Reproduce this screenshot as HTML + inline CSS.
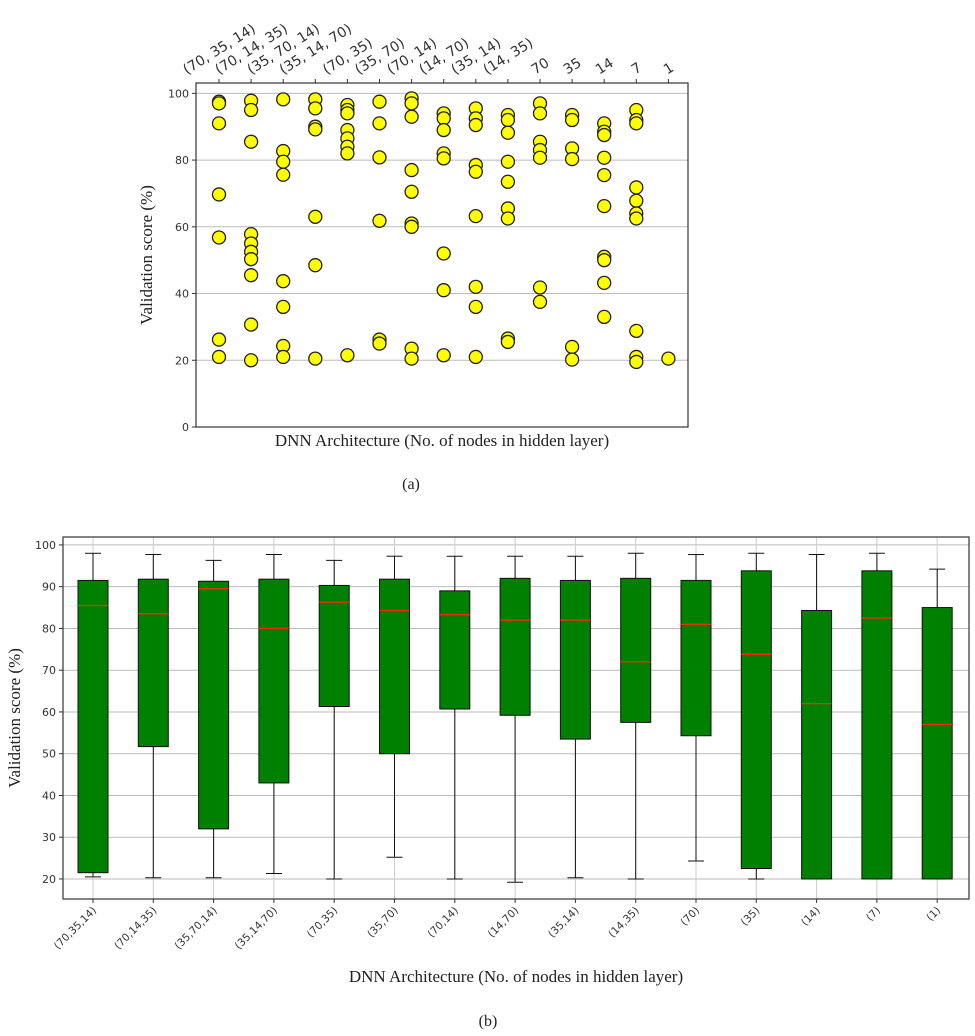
<!DOCTYPE html>
<html><head><meta charset="utf-8"><style>
body{margin:0;background:#fff;width:975px;height:1036px;overflow:hidden}
svg{display:block}
text{font-family:"DejaVu Sans","Liberation Sans",sans-serif;fill:#333}
.serif{font-family:"Liberation Serif","DejaVu Serif",serif;fill:#222}
</style></head><body>
<svg id="s" width="975" height="1036"></svg>
<script>
const topCats=["(70, 35, 14)","(70, 14, 35)","(35, 70, 14)","(35, 14, 70)","(70, 35)","(35, 70)","(70, 14)","(14, 70)","(35, 14)","(14, 35)","70","35","14","7","1"];
const scatterValues=[
[97.5,97,91,69.7,56.8,26.2,21],
[97.8,95,85.5,57.8,55,52.5,50.3,45.5,30.7,20],
[98.2,82.7,79.5,75.6,43.7,36,24.3,21],
[98.2,95.5,90,89.2,63,48.5,20.5],
[96.5,95,94,89,86.5,84,82,21.5],
[97.5,91,80.8,61.8,26.2,25],
[98.5,97,93,77,70.5,61,60,23.5,20.5],
[94,92.5,89,82,80.5,52,41,21.5],
[95.5,92.5,90.5,78.5,76.5,63.2,42,36,21],
[93.5,92,88.2,79.5,73.5,65.5,62.5,26.5,25.5],
[97,94,85.5,83,80.7,41.8,37.5],
[93.5,92,83.5,80.3,24,20.2],
[91,88.5,87.5,80.7,75.5,66.2,51,50,43.2,33],
[95,92,91,71.8,67.8,64,62.5,28.8,21,19.5],
[20.5]];
const topYTicks=[0,20,40,60,80,100];
const boxCats=["(70,35,14)","(70,14,35)","(35,70,14)","(35,14,70)","(70,35)","(35,70)","(70,14)","(14,70)","(35,14)","(14,35)","(70)","(35)","(14)","(7)","(1)"];
const whiskerHigh=[98,97.7,96.3,97.7,96.3,97.3,97.3,97.3,97.3,98,97.7,98,97.7,98,94.2];
const q3=[91.5,91.8,91.3,91.8,90.3,91.8,89,92,91.5,92,91.5,93.8,84.3,93.8,85];
const medians=[85.5,83.5,89.5,80,86.3,84.3,83.3,82,82,72,81,73.8,62,82.5,57];
const q1=[21.5,51.7,32,43,61.3,50,60.7,59.2,53.5,57.5,54.3,22.5,20,20,20];
const whiskerLow=[20.5,20.3,20.3,21.3,20,25.2,20,19.2,20.3,20,24.3,20,20,20,20];
const boxYTicks=[20,30,40,50,60,70,80,90,100];

const S=document.getElementById('s');const NS="http://www.w3.org/2000/svg";
function mk(tag,attrs,parent,txt){const e=document.createElementNS(NS,tag);for(const k in attrs)e.setAttribute(k,attrs[k]);if(txt!==undefined)e.textContent=txt;(parent||S).appendChild(e);return e;}

// ---- top chart ----
const tL=196,tR=688,tT=83,tB=427,tMin=0,tMax=103.1;
const ty=v=>tB-(v-tMin)/(tMax-tMin)*(tB-tT);
const tx=i=>219+i*32.1;
let g=mk('g',{});


topYTicks.forEach(v=>{
 if(v>0){const l=mk('line',{x1:tL,x2:tR,y1:ty(v),y2:ty(v),stroke:'#bbb','stroke-width':1},g);
 }
 mk('line',{x1:tL-4,x2:tL,y1:ty(v),y2:ty(v),stroke:'#333'},g);
 const t=mk('text',{x:tL-7,y:ty(v)+4,'text-anchor':'end','font-size':11},g,v);
 
});
const ang=32*Math.PI/180;
topCats.forEach((c,i)=>{
 mk('line',{x1:tx(i),x2:tx(i),y1:tT,y2:tT-4,stroke:'#333'},g);
 const t=mk('text',{x:tx(i),y:0,'text-anchor':'middle','font-size':14,fill:'#444'},g,c);
 
 const w=t.getComputedTextLength(),h=13;
 const cy=tT-7-(w*Math.sin(ang)+h*Math.cos(ang))/2;
 t.setAttribute('y',cy+5);
 t.setAttribute('transform',`rotate(-32 ${tx(i)} ${cy})`);
 scatterValues[i].forEach(v=>{
  const p=mk('circle',{cx:tx(i),cy:ty(v),r:6.5,fill:'#ffff00',stroke:'#222','stroke-width':1.3},g);
  
 });
});
mk('rect',{x:tL,y:tT,width:tR-tL,height:tB-tT,fill:'none',stroke:'#333','stroke-width':1.2},g);
let t1=mk('text',{x:152,y:255,transform:'rotate(-90 152 255)','text-anchor':'middle','font-size':17,class:'serif'},g,'Validation score (%)');

t1=mk('text',{x:442,y:446,'text-anchor':'middle','font-size':17,class:'serif'},g,'DNN Architecture (No. of nodes in hidden layer)');

t1=mk('text',{x:411,y:489,'text-anchor':'middle','font-size':16,class:'serif'},g,'(a)');


// ---- bottom chart ----
const bL=63,bR=969,bT=537,bB=899,bMin=15.2,bMax=101.9;
const by=v=>bB-(v-bMin)/(bMax-bMin)*(bB-bT);
const bx=i=>93+i*60.3;
let g2=mk('g',{});


boxYTicks.forEach(v=>{
 const l=mk('line',{x1:bL,x2:bR,y1:by(v),y2:by(v),stroke:'#bbb'},g2);
 
 mk('line',{x1:bL-4,x2:bL,y1:by(v),y2:by(v),stroke:'#333'},g2);
 const t=mk('text',{x:bL-7,y:by(v)+4,'text-anchor':'end','font-size':11},g2,v);
 
});
boxCats.forEach((c,i)=>{
 const x=bx(i);
 mk('line',{x1:x,x2:x,y1:bT,y2:bB,stroke:'#ccc'},g2);
 mk('line',{x1:x,x2:x,y1:bB,y2:bB+4,stroke:'#333'},g2);
 const t=mk('text',{x:x+4,y:bB+12,transform:`rotate(-45 ${x+4} ${bB+12})`,'text-anchor':'end','font-size':10.5},g2,c);
 
 mk('line',{x1:x,x2:x,y1:by(whiskerHigh[i]),y2:by(q3[i]),stroke:'#111'},g2);
 mk('line',{x1:x,x2:x,y1:by(q1[i]),y2:by(whiskerLow[i]),stroke:'#111'},g2);
 mk('line',{x1:x-8,x2:x+8,y1:by(whiskerHigh[i]),y2:by(whiskerHigh[i]),stroke:'#111'},g2);
 mk('line',{x1:x-8,x2:x+8,y1:by(whiskerLow[i]),y2:by(whiskerLow[i]),stroke:'#111'},g2);
 const b=mk('rect',{x:x-15,y:by(q3[i]),width:30,height:by(q1[i])-by(q3[i]),fill:'#008000',stroke:'#111'},g2);
 
 const m=mk('line',{x1:x-15,x2:x+15,y1:by(medians[i]),y2:by(medians[i]),stroke:'#ff2a00','stroke-width':1.3},g2);
 
});
mk('rect',{x:bL,y:bT,width:bR-bL,height:bB-bT,fill:'none',stroke:'#333','stroke-width':1.2},g2);
t1=mk('text',{x:20,y:718,transform:'rotate(-90 20 718)','text-anchor':'middle','font-size':17,class:'serif'},g2,'Validation score (%)');

t1=mk('text',{x:516,y:982,'text-anchor':'middle','font-size':17,class:'serif'},g2,'DNN Architecture (No. of nodes in hidden layer)');

t1=mk('text',{x:488,y:1026,'text-anchor':'middle','font-size':16,class:'serif'},g2,'(b)');

</script>
</body></html>
